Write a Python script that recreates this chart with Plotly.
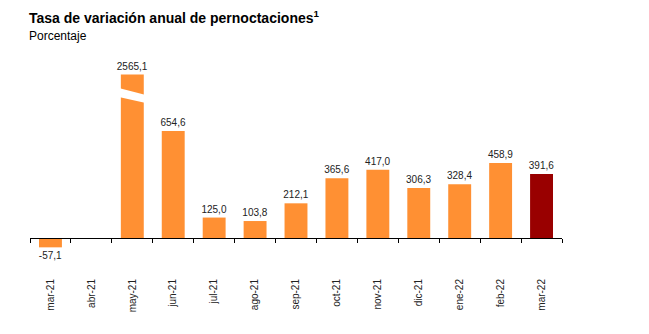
import plotly.graph_objects as go

categories = ["mar-21", "abr-21", "may-21", "jun-21", "jul-21", "ago-21", "sep-21",
              "oct-21", "nov-21", "dic-21", "ene-22", "feb-22", "mar-22"]
values = [-57.1, None, 2565.1, 654.6, 125.0, 103.8, 212.1,
          365.6, 417.0, 306.3, 328.4, 458.9, 391.6]
labels = ["-57,1", "", "2565,1", "654,6", "125,0", "103,8", "212,1",
          "365,6", "417,0", "306,3", "328,4", "458,9", "391,6"]

CAP = 1000  # broken-axis cap for the out-of-scale bar
ORANGE = "#FF9033"
DARKRED = "#990000"

disp = [None if v is None else min(v, CAP) for v in values]
colors = [ORANGE] * (len(categories) - 1) + [DARKRED]

W, H = 649, 334
plot_top, plot_bot = 60, 262
zero_px = 238
px_per_unit = 0.1635
y_max = (zero_px - plot_top) / px_per_unit
y_min = -(plot_bot - zero_px) / px_per_unit
zero_frac = (plot_bot - zero_px) / (plot_bot - plot_top)

fig = go.Figure()
fig.add_trace(go.Bar(
    x=categories, y=disp, marker=dict(color=colors, line=dict(width=0)),
    text=labels, textposition="outside", cliponaxis=False, constraintext="none",
    textfont=dict(family="Liberation Sans, Arial", size=10, color="#222"),
    width=0.56, hoverinfo="skip",
))
# invisible trace for the zero axis line with boundary ticks
fig.add_trace(go.Scatter(x=categories, y=[0] * len(categories), xaxis="x2", yaxis="y",
                         mode="markers", marker=dict(opacity=0), hoverinfo="skip",
                         showlegend=False))

# axis break on the capped bar
i = values.index(max(v for v in values if v is not None))
to_val = lambda py: (zero_px - py) / px_per_unit
fig.add_shape(type="path", xref="x", yref="y", layer="above", line=dict(width=0),
              fillcolor="white",
              path=(f"M {i-0.33},{to_val(88)} L {i+0.33},{to_val(95)} "
                    f"L {i+0.33},{to_val(103)} L {i-0.33},{to_val(97)} Z"))

fig.update_layout(
    width=W, height=H, margin=dict(l=30, r=W - 562, t=plot_top, b=H - plot_bot),
    plot_bgcolor="white", paper_bgcolor="white", showlegend=False,
    font=dict(family="Liberation Sans, Arial", size=10, color="#222"),
    xaxis=dict(type="category", tickangle=-90, showline=False, ticks="outside",
               ticklen=12, tickcolor="rgba(0,0,0,0)", showgrid=False,
               tickfont=dict(size=10), range=[-0.5, 12.5]),
    xaxis2=dict(type="category", overlaying="x", anchor="free", position=zero_frac,
                showline=True, linecolor="black", linewidth=1, ticks="outside",
                ticklen=4, tickcolor="black", tickson="boundaries",
                showticklabels=False, showgrid=False, range=[-0.5, 12.5]),
    yaxis=dict(range=[y_min, y_max], visible=False, zeroline=False, showgrid=False),
    annotations=[
        dict(text="<b>Tasa de variación anual de pernoctaciones<sup>1</sup></b>",
             x=27, y=H - 28, xref="paper", yref="paper", showarrow=False,
             xanchor="left", yanchor="bottom", font=dict(size=14, color="black")),
        dict(text="Porcentaje", x=27, y=H - 45, xref="paper", yref="paper",
             showarrow=False, xanchor="left", yanchor="bottom",
             font=dict(size=12, color="black")),
    ],
)
# convert pixel-placed annotations to paper coordinates
pw, ph = 562 - 30, plot_bot - plot_top
for a in fig.layout.annotations:
    a.x = (a.x - 30) / pw
    a.y = (a.y - (H - plot_bot)) / ph

fig.write_html("out.html")
